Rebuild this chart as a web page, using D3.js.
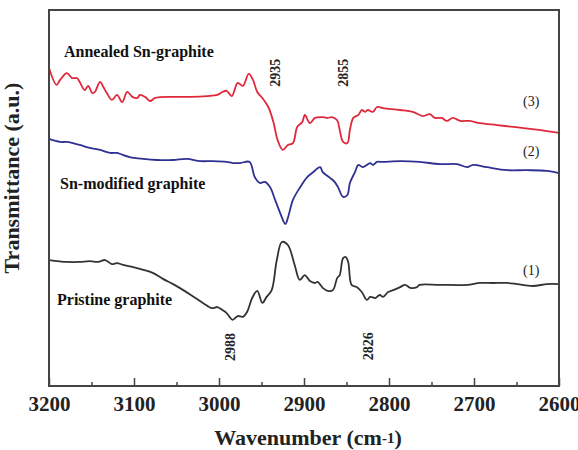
<!DOCTYPE html>
<html>
<head>
<meta charset="utf-8">
<script src="https://cdn.jsdelivr.net/npm/d3@7"></script>
<style>
html,body{margin:0;padding:0;background:#fff;}
svg{display:block;font-family:"Liberation Serif","Times New Roman",serif;}
</style>
</head>
<body>
<svg id="chart" width="578" height="450"></svg>
<script>
// ---- Data (wavenumber cm^-1, transmittance a.u.) ----
const xTicks = [3200, 3100, 3000, 2900, 2800, 2700, 2600];
const xMinorTicks = [3150, 3050, 2950, 2850, 2750, 2650];

const annealedSn = [
[3200,84.6],[3191,80.1],[3187,81.4],[3179,83.2],[3173,81.9],[3167,81.9],[3164,80.9],[3158,78.7],[3154,79.8],
[3149,77.9],[3146,78.2],[3140,80.9],[3136,79.5],[3132,77.9],[3126,76.1],[3120,77.4],[3114,75.5],[3108,78.2],
[3102,76.9],[3096,76.6],[3093,77.4],[3087,76.9],[3081,75.8],[3075,76.6],[3054,76.9],[3034,76.9],[3014,77.1],
[3002,77.4],[2996,78.2],[2991,78.5],[2985,77.1],[2978,80.6],[2972,79.8],[2965,83.0],[2960,81.4],[2955,78.2],
[2949,76.6],[2942,74.2],[2936,70.2],[2931,65.4],[2925,62.8],[2919,64.1],[2913,64.6],[2908,68.9],[2902,70.2],
[2899,72.1],[2893,69.9],[2887,71.3],[2878,71.5],[2872,71.3],[2867,71.5],[2861,70.7],[2858,68.1],[2854,64.9],
[2849,64.6],[2846,68.1],[2842,71.3],[2836,72.1],[2832,73.4],[2828,72.9],[2825,73.4],[2819,72.9],[2814,74.2],
[2807,73.9],[2787,73.4],[2772,72.9],[2760,71.8],[2752,72.3],[2746,71.3],[2738,71.3],[2732,70.5],[2725,71.3],
[2716,70.5],[2705,70.5],[2693,69.9],[2673,69.4],[2654,68.9],[2634,68.4],[2614,67.8],[2600,67.3]
];

const snModified = [
[3200,65.7],[3187,64.9],[3179,64.9],[3164,64.1],[3152,63.3],[3140,62.8],[3128,62.0],[3120,62.0],[3116,61.7],
[3105,60.9],[3089,60.4],[3073,60.1],[3054,60.1],[3038,60.4],[3022,59.8],[3007,59.8],[2991,59.6],[2984,59.3],
[2975,59.3],[2964,59.6],[2958,55.6],[2952,54.0],[2946,54.3],[2940,52.9],[2934,49.5],[2928,46.0],[2922,43.1],
[2919,44.7],[2913,49.5],[2905,52.7],[2896,55.6],[2889,56.9],[2881,58.2],[2878,56.9],[2869,55.3],[2864,54.3],
[2860,52.9],[2854,50.3],[2849,50.8],[2846,54.0],[2840,56.9],[2836,58.8],[2831,58.2],[2822,59.3],[2819,58.8],
[2814,59.6],[2807,59.6],[2787,59.8],[2764,59.6],[2740,59.0],[2720,59.0],[2708,58.2],[2701,58.8],[2685,58.2],
[2661,57.4],[2638,57.4],[2614,57.2],[2600,56.6]
];

const pristine = [
[3200,33.5],[3179,33.0],[3164,33.0],[3152,33.2],[3142,33.0],[3134,33.5],[3126,32.4],[3120,32.7],[3113,32.2],
[3101,31.6],[3089,30.9],[3078,30.1],[3066,28.5],[3054,27.1],[3042,25.5],[3031,23.9],[3019,22.1],[3008,20.7],
[3002,21.0],[2996,20.2],[2991,19.4],[2984,17.6],[2978,18.6],[2972,18.4],[2967,19.7],[2961,23.4],[2955,25.3],
[2949,22.1],[2944,23.7],[2938,25.5],[2932,33.5],[2926,38.3],[2919,37.5],[2911,32.2],[2905,28.2],[2899,29.5],
[2893,27.9],[2887,27.4],[2884,27.7],[2878,26.1],[2872,25.3],[2866,25.5],[2861,28.7],[2858,29.5],[2854,34.0],
[2851,34.3],[2848,33.0],[2844,26.9],[2838,26.3],[2832,25.0],[2826,22.9],[2822,23.7],[2816,23.4],[2811,24.2],
[2807,23.7],[2801,25.0],[2795,25.5],[2787,26.3],[2781,26.9],[2775,26.1],[2767,26.3],[2764,26.9],[2740,26.9],
[2708,26.9],[2693,27.4],[2678,27.4],[2661,27.4],[2649,27.1],[2631,26.6],[2614,27.1],[2600,27.1]
];

const seriesNames = ["Annealed Sn-graphite", "Sn-modified graphite", "Pristine graphite"];
const seriesTags = ["(3)", "(2)", "(1)"];
const peakLabels = [
  {text: "2935", w: 2935, v: 83.3},
  {text: "2855", w: 2855, v: 83.3},
  {text: "2988", w: 2988, v: 10.4},
  {text: "2826", w: 2826, v: 10.6}
];

// ---- Layout ----
const svg = d3.select("#chart");
const m = {left: 49, right: 19, top: 10, bottom: 64};
const W = 578, H = 450;
const x = d3.scaleLinear().domain([3200, 2600]).range([m.left, W - m.right]);
const y = d3.scaleLinear().domain([0, 100]).range([H - m.bottom, m.top]);

const axisColor = "#444";

// lines
const line = d3.line().x(d => x(d[0])).y(d => y(d[1])).curve(d3.curveCatmullRom.alpha(0.5));
const colors = ["#e0283c", "#2e3192", "#333333"];
[annealedSn, snModified, pristine].forEach((s, i) => {
  svg.append("path").datum(s).attr("d", line)
    .attr("fill", "none").attr("stroke", colors[i]).attr("stroke-width", 1.8)
    .attr("stroke-linejoin", "round");
});

// frame
svg.append("rect").attr("x", m.left).attr("y", m.top)
  .attr("width", W - m.right - m.left).attr("height", H - m.bottom - m.top)
  .attr("fill", "none").attr("stroke", axisColor).attr("stroke-width", 2);

// bottom axis
const xAxis = d3.axisBottom(x).tickValues(xTicks).tickSize(-8).tickPadding(14).tickFormat(d3.format("d"));
const gx = svg.append("g").attr("transform", `translate(0,${H - m.bottom})`).call(xAxis);
gx.select(".domain").remove();
gx.selectAll(".tick line").attr("stroke", axisColor).attr("stroke-width", 1.5);
gx.selectAll(".tick text").attr("fill", "#222").attr("font-size", 21).attr("font-weight", "bold")
  .attr("font-family", "'Liberation Serif','Times New Roman',serif").attr("dy", "0.5em");
const gm = svg.append("g").attr("transform", `translate(0,${H - m.bottom})`)
  .call(d3.axisBottom(x).tickValues(xMinorTicks).tickSize(-4).tickFormat(""));
gm.select(".domain").remove();
gm.selectAll(".tick line").attr("stroke", axisColor).attr("stroke-width", 1.5);

// axis titles
const xt = svg.append("text").attr("x", (m.left + W - m.right) / 2 + 4).attr("y", 445)
  .attr("text-anchor", "middle").attr("font-size", 22).attr("font-weight", "bold").attr("fill", "#222");
xt.append("tspan").text("Wavenumber (cm");
xt.append("tspan").attr("font-size", 15).attr("dy", -2).text("-1");
xt.append("tspan").attr("dy", 2).text(")");

svg.append("text").attr("transform", `translate(19,${178}) rotate(-90)`)
  .attr("text-anchor", "middle").attr("font-size", 22).attr("font-weight", "bold").attr("fill", "#222")
  .text("Transmittance (a.u.)");

// series names
const namePos = [[64, 57], [60, 189], [57, 305]];
seriesNames.forEach((n, i) => {
  svg.append("text").attr("x", namePos[i][0]).attr("y", namePos[i][1])
    .attr("font-size", 16).attr("font-weight", "bold").attr("fill", "#111").text(n);
});

// tags
const tagY = [106, 156, 275];
seriesTags.forEach((t, i) => {
  svg.append("text").attr("x", 523).attr("y", tagY[i]).attr("font-size", 14).attr("fill", "#222").text(t);
});

// peak labels (rotated)
peakLabels.forEach(p => {
  svg.append("text")
    .attr("transform", `translate(${x(p.w) + 6},${y(p.v)}) rotate(-90)`)
    .attr("text-anchor", "middle").attr("font-size", 14).attr("font-weight", "bold").attr("fill", "#222")
    .text(p.text);
});
</script>
</body>
</html>
